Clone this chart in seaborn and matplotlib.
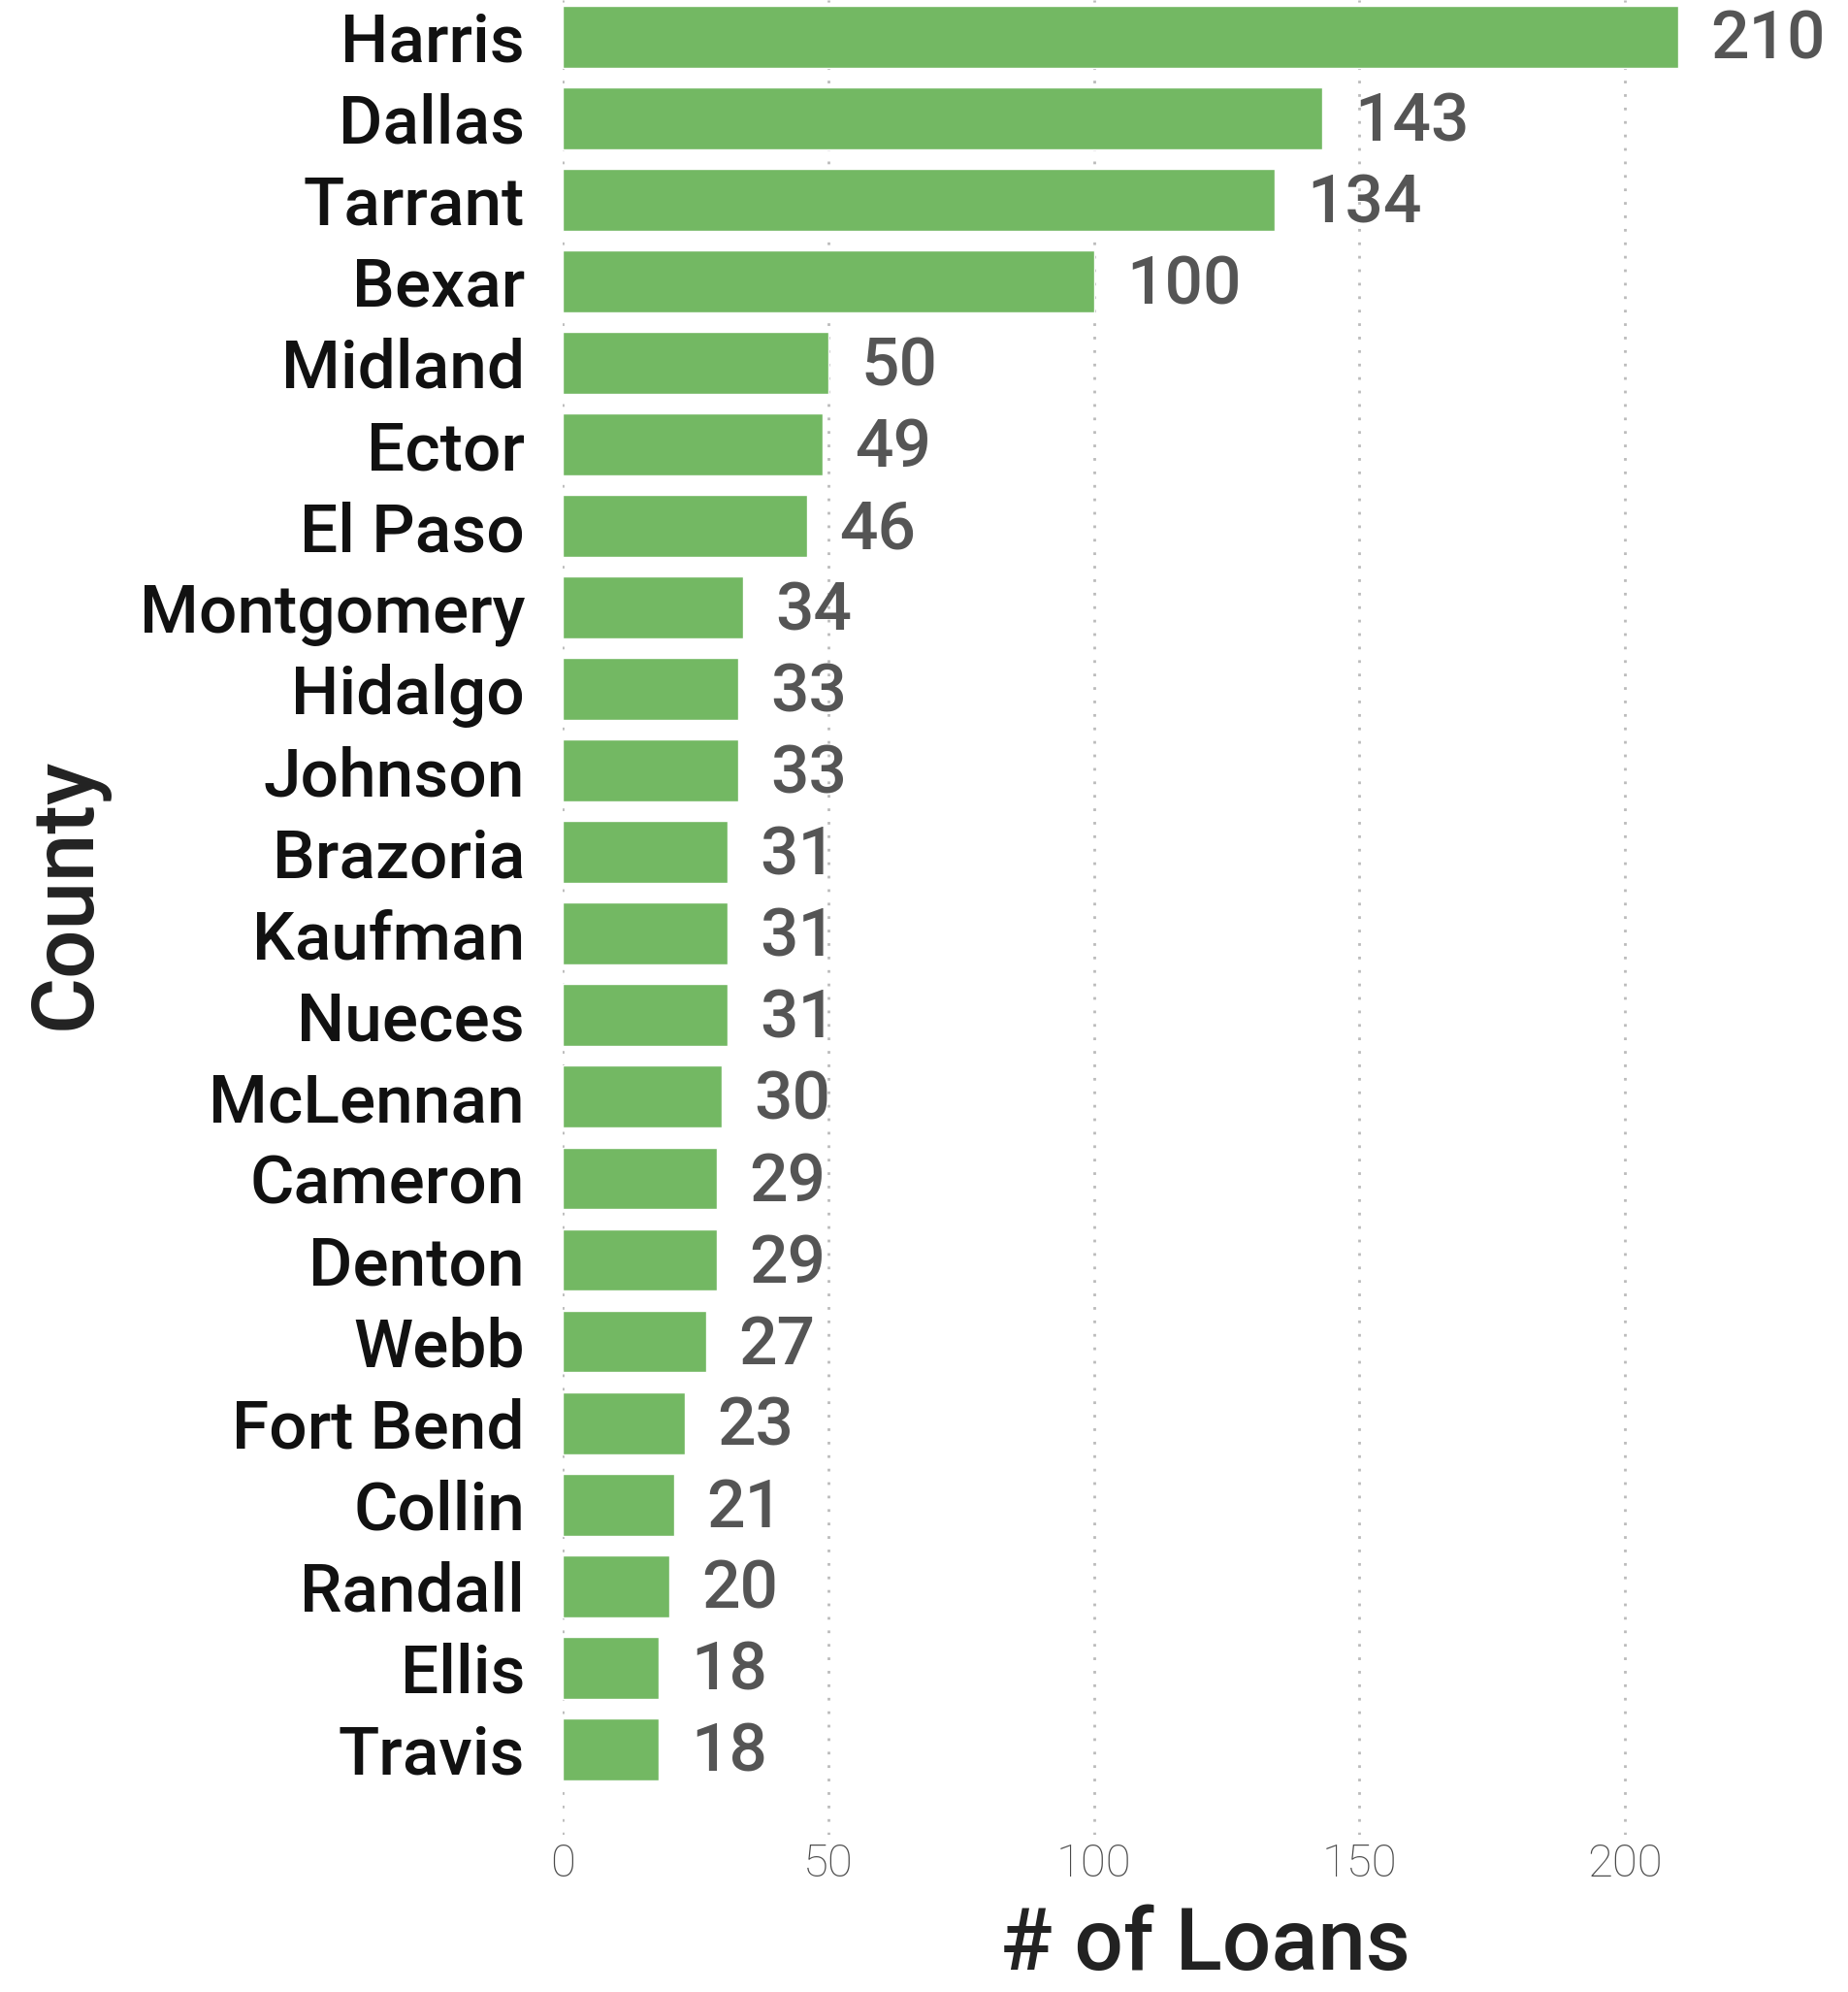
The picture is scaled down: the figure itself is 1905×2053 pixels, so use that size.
import matplotlib
matplotlib.use("Agg")
import matplotlib.pyplot as plt
import seaborn as sns
import pandas as pd

counties = ["Harris", "Dallas", "Tarrant", "Bexar", "Midland", "Ector", "El Paso",
            "Montgomery", "Hidalgo", "Johnson", "Brazoria", "Kaufman", "Nueces",
            "McLennan", "Cameron", "Denton", "Webb", "Fort Bend", "Collin",
            "Randall", "Ellis", "Travis"]
loans = [210, 143, 134, 100, 50, 49, 46, 34, 33, 33, 31, 31, 31, 30, 29, 29, 27,
         23, 21, 20, 18, 18]
x_ticks = [0, 50, 100, 150, 200]

df = pd.DataFrame({"County": counties, "Loans": loans})

sns.set_theme(style="white")
plt.rcParams["font.family"] = ["Roboto", "DejaVu Sans"]

fig = plt.figure(figsize=(19.05, 20.53), dpi=100)
ax = fig.add_axes([580 / 1905, (2053 - 1891) / 2053, 1 - 580 / 1905, 1891 / 2053])

sns.barplot(data=df, x="Loans", y="County", orient="h", color="#73B863",
            saturation=1, width=0.76, ax=ax, zorder=2)

ax.set_xlim(0, 242)
ax.set_ylim(22.05, -0.45)
ax.set_xticks(x_ticks)
ax.xaxis.grid(True, linestyle=(0, (1, 4)), color="#bbbbbb", linewidth=2, zorder=0)
ax.yaxis.grid(False)
for s in ax.spines.values():
    s.set_visible(False)

ax.tick_params(axis="y", length=0, pad=28, labelsize=50, labelcolor="#111111")
ax.tick_params(axis="x", length=0, pad=6, labelsize=34, labelcolor="#4a4a4a")
for t in ax.get_yticklabels():
    t.set_fontweight("medium")
for t in ax.get_xticklabels():
    t.set_fontweight("light")

anns = ax.bar_label(ax.containers[0], labels=[str(v) for v in loans], padding=24,
                    fontsize=50, color="#555555", fontweight="medium")
for a in anns:
    a.xyann = (24, -3)

ax.set_xlabel("# of Loans", fontsize=64, color="#222222", fontweight="medium", labelpad=14)
ax.set_ylabel("County", fontsize=64, color="#222222", fontweight="medium")
ax.yaxis.set_label_coords((112 - 580) / (1905 - 580), 0.513)

fig.savefig("out.png", dpi=100)
